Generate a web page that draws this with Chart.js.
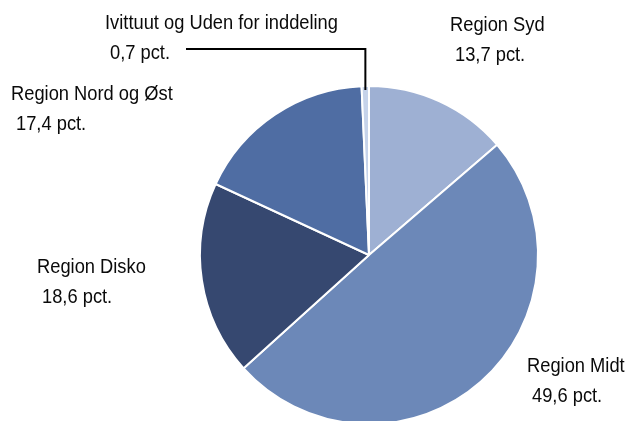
<!DOCTYPE html>
<html>
<head>
<meta charset="utf-8">
<script src="https://cdn.jsdelivr.net/npm/chart.js@4"></script>
<style>
  html, body { margin: 0; padding: 0; background: #fff; overflow: hidden; }
  #wrap { position: relative; width: 628px; height: 460px; }
</style>
</head>
<body>
<div id="wrap"><canvas id="pieChart" width="628" height="460"></canvas></div>
<script>
// data
var regions = ['Region Syd', 'Region Midt', 'Region Disko', 'Region Nord og Øst', 'Ivittuut og Uden for inddeling'];
var shares = [13.7, 49.6, 18.6, 17.4, 0.7];
var sliceColors = ['#9eb0d3', '#6c88b8', '#364870', '#4f6da3', '#c6d3ea'];

// label text positions (left x, top y of first line)
var labelPos = [
    [450, 15], [527, 356], [37, 257], [11, 84], [105, 13]
];

var FONT = '20px "Liberation Sans", Arial, sans-serif';
var SQUEEZE = 0.915; // the original font is a condensed one

var labelPlugin = {
    id: 'sliceLabels',
    afterDraw: function (chart) {
        var ctx = chart.ctx;
        ctx.save();
        ctx.font = FONT;
        ctx.fillStyle = '#0a0a0a';
        ctx.textBaseline = 'top';
        ctx.textAlign = 'left';
        ctx.save();
        ctx.scale(SQUEEZE, 1);
        for (var i = 0; i < regions.length; i++) {
            var p = labelPos[i];
            var val = shares[i].toFixed(1).replace('.', ',') + ' pct.';
            ctx.fillText(regions[i], p[0] / SQUEEZE, p[1]);
            ctx.fillText(val, (p[0] + 5) / SQUEEZE, p[1] + 30);
        }
        ctx.restore();
        // leader line for the small slice
        var arc = chart.getDatasetMeta(0).data[4];
        var mid = (arc.startAngle + arc.endAngle) / 2;
        var ex = arc.x + Math.cos(mid) * (arc.outerRadius - 4);
        var ey = arc.y + Math.sin(mid) * (arc.outerRadius - 4);
        ctx.strokeStyle = '#000';
        ctx.lineWidth = 2;
        ctx.beginPath();
        ctx.moveTo(186, 49);
        ctx.lineTo(ex, 49);
        ctx.lineTo(ex, ey);
        ctx.stroke();
        ctx.restore();
    }
};

var ctx = document.getElementById('pieChart');
var myPie = new Chart(ctx, {
    type: 'pie',
    data: {
        labels: regions,
        datasets: [{
            data: shares,
            backgroundColor: sliceColors,
            borderColor: '#ffffff',
            borderWidth: 2
        }]
    },
    options: {
        responsive: false,
        animation: false,
        layout: {
            padding: { left: 199, right: 89, top: 85, bottom: 35 }
        },
        plugins: {
            legend: { display: false },
            tooltip: { enabled: false }
        }
    },
    plugins: [labelPlugin]
});
</script>
</body>
</html>
